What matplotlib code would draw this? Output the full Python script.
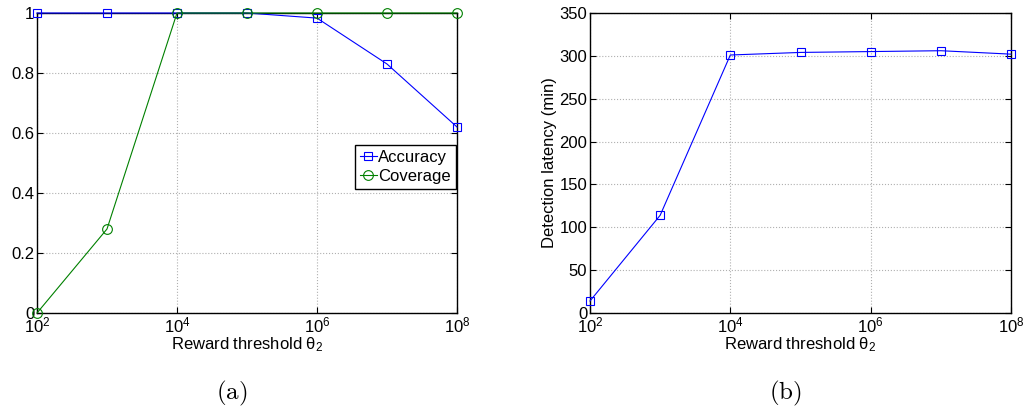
import numpy as np
import matplotlib
matplotlib.use("Agg")
import matplotlib.pyplot as plt
from matplotlib.ticker import LogLocator, NullLocator

plt.rcParams['font.family'] = ['Liberation Sans', 'DejaVu Sans']
plt.rcParams['mathtext.fontset'] = 'custom'
plt.rcParams['mathtext.rm'] = 'Liberation Sans'
plt.rcParams['mathtext.it'] = 'Liberation Sans:italic'

# data
thresholds = [1e2, 1e3, 1e4, 1e5, 1e6, 1e7, 1e8]
accuracy = [1.0, 1.0, 1.0, 1.0, 0.983, 0.83, 0.62]
coverage = [0.0, 0.28, 1.0, 1.0, 1.0, 1.0, 1.0]
latency = [14, 114, 301, 304, 305, 306, 302]

xlabel = r'Reward threshold $\mathregular{\theta_2}$'
FS = 12

fig = plt.figure(figsize=(10.29, 4.08), dpi=100)
ax1 = fig.add_axes([37/1029, 1-313/408, 420/1029, 300/408])
ax2 = fig.add_axes([590/1029, 1-313/408, 421/1029, 300/408])


def style(ax):
    ax.set_xscale('log')
    ax.set_xlim(1e2, 1e8)
    ax.xaxis.set_major_locator(LogLocator(base=100))
    ax.xaxis.set_minor_locator(NullLocator())
    ax.grid(True, linestyle=':', color='#b0b0b0', linewidth=0.8)
    ax.tick_params(direction='in', top=True, right=True, labelsize=FS,
                   length=4, width=0.8, pad=2)
    for s in ax.spines.values():
        s.set_linewidth(1.0)
    ax.set_xlabel(xlabel, fontsize=FS, labelpad=0)


ax1.plot(thresholds, accuracy, color='blue', lw=0.8, marker='s', ms=6,
         mfc='none', mew=0.8, label='Accuracy', clip_on=False, zorder=3)
ax1.plot(thresholds, coverage, color='green', lw=0.8, marker='o', ms=7,
         mfc='none', mew=0.8, label='Coverage', clip_on=False, zorder=3)
style(ax1)
ax1.set_ylim(0, 1)
ax1.set_yticks([0, 0.2, 0.4, 0.6, 0.8, 1])
ax1.set_yticklabels(['0', '0.2', '0.4', '0.6', '0.8', '1'])
leg = ax1.legend(loc='upper left', bbox_to_anchor=(0.757, 0.56), fontsize=FS,
                 fancybox=False, framealpha=1, edgecolor='black',
                 handlelength=1.0, handletextpad=0.1, borderpad=0.3,
                 labelspacing=0.25, borderaxespad=0)
leg.get_frame().set_linewidth(1.0)

ax2.plot(thresholds, latency, color='blue', lw=0.8, marker='s', ms=6,
         mfc='none', mew=0.8, clip_on=False, zorder=3)
style(ax2)
ax2.set_ylim(0, 350)
ax2.set_yticks(np.arange(0, 351, 50))
ax2.set_ylabel('Detection latency (min)', fontsize=FS, labelpad=2)

fig.text(232/1029, 1-393/408, r'$\mathrm{(a)}$', ha='center', va='center',
         fontsize=18, math_fontfamily='cm')
fig.text(785/1029, 1-393/408, r'$\mathrm{(b)}$', ha='center', va='center',
         fontsize=18, math_fontfamily='cm')

fig.savefig('out.png', dpi=100)
